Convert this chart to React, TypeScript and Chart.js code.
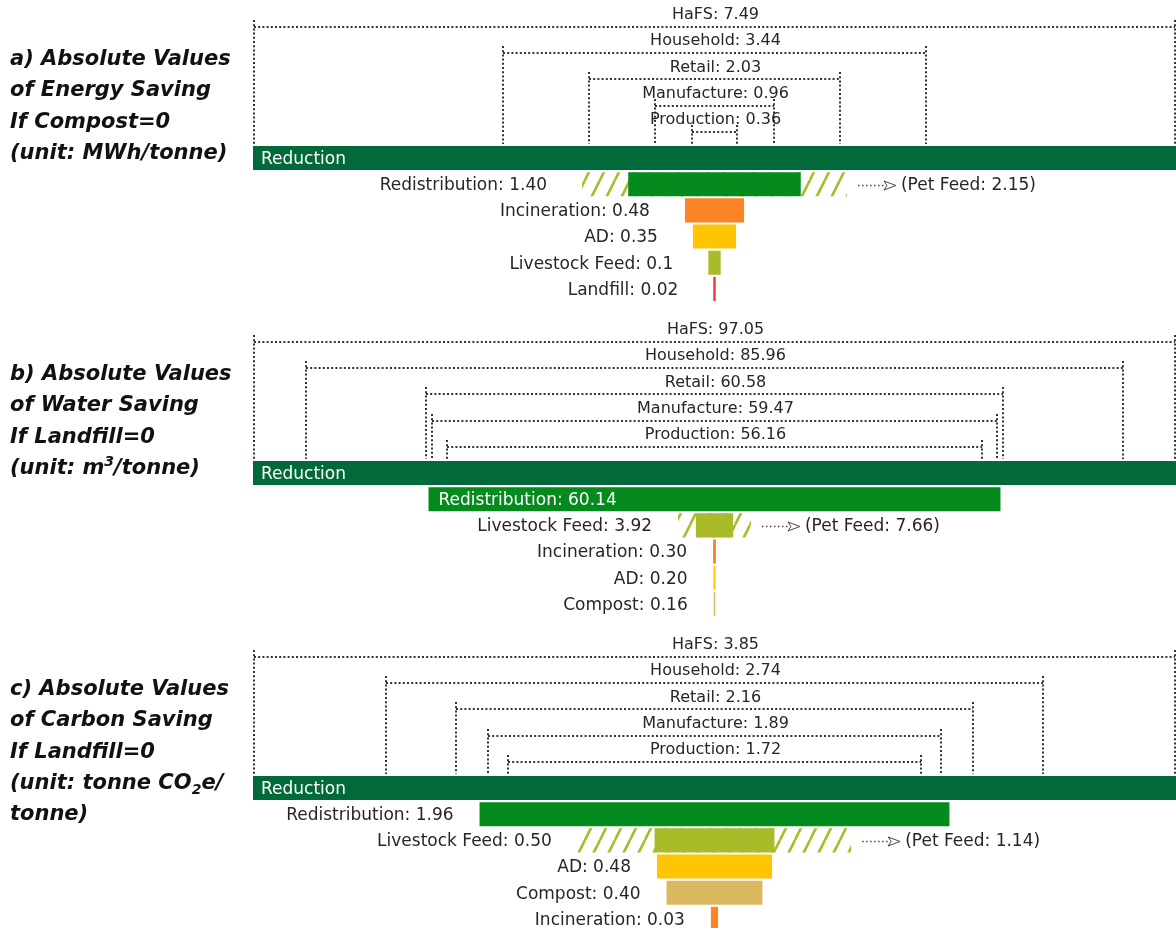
import React, { useEffect, useRef } from 'react';
import { Chart, registerables } from 'chart.js';

Chart.register(...registerables);

// ---------- data ----------
const STAGES = ['HaFS', 'Household', 'Retail', 'Manufacture', 'Production'];

const ENERGY_STAGE_VALUES = ['7.49', '3.44', '2.03', '0.96', '0.36'];
const ENERGY_ROUTES = ['Redistribution', 'Incineration', 'AD', 'Livestock Feed', 'Landfill'];
const ENERGY_ROUTE_VALUES = ['1.40', '0.48', '0.35', '0.1', '0.02'];
const ENERGY_PET_FEED = '2.15';
const ENERGY_PET_ROW = 'Redistribution';

const WATER_STAGE_VALUES = ['97.05', '85.96', '60.58', '59.47', '56.16'];
const WATER_ROUTES = ['Redistribution', 'Livestock Feed', 'Incineration', 'AD', 'Compost'];
const WATER_ROUTE_VALUES = ['60.14', '3.92', '0.30', '0.20', '0.16'];
const WATER_PET_FEED = '7.66';
const WATER_PET_ROW = 'Livestock Feed';

const CARBON_STAGE_VALUES = ['3.85', '2.74', '2.16', '1.89', '1.72'];
const CARBON_ROUTES = ['Redistribution', 'Livestock Feed', 'AD', 'Compost', 'Incineration'];
const CARBON_ROUTE_VALUES = ['1.96', '0.50', '0.48', '0.40', '0.03'];
const CARBON_PET_FEED = '1.14';
const CARBON_PET_ROW = 'Livestock Feed';

// ---------- styles ----------
const ROUTE_COLORS: Record<string, string> = {
  Reduction: '#026a3a',
  Redistribution: '#058b1d',
  Incineration: '#fc8424',
  AD: '#ffc402',
  'Livestock Feed': '#a9bb29',
  Landfill: '#ee3a40',
  Compost: '#dcb95f',
};
const HATCH_COLOR = '#a9bb29';
const TEXT_COLOR = '#262626';
const FONT = '"DejaVu Sans", Verdana, sans-serif';

function makeHatch(): CanvasPattern | string {
  const c = document.createElement('canvas');
  const w = 15, h = 30;
  c.width = w; c.height = h;
  const g = c.getContext('2d');
  if (!g) return HATCH_COLOR;
  g.strokeStyle = HATCH_COLOR;
  g.lineWidth = 2.6;
  for (const off of [-w, 0, w]) {
    g.beginPath();
    g.moveTo(off, h);
    g.lineTo(off + w, 0);
    g.stroke();
  }
  return g.createPattern(c, 'repeat') || HATCH_COLOR;
}

const funnelPlugin = {
  id: 'funnel',
  beforeDatasetsDraw(chart: any, _args: any, o: any) {
    const ctx: CanvasRenderingContext2D = chart.ctx;
    const xs = chart.scales.x, ys = chart.scales.y;
    const area = chart.chartArea;
    const pitch = ys.getPixelForValue(1) - ys.getPixelForValue(0);
    const redY = ys.getPixelForValue(STAGES.length);
    const bottom = redY - pitch * 0.46 - 2;
    const cx = xs.getPixelForValue(0);
    ctx.save();
    ctx.strokeStyle = '#333333';
    ctx.lineWidth = 2;
    ctx.setLineDash([2, 2.2]);
    o.stageValues.forEach((s: string, i: number) => {
      const v = parseFloat(s);
      const yy = Math.round(ys.getPixelForValue(i));
      const xl = Math.max(area.left + 1, Math.round(xs.getPixelForValue(-v / 2)));
      const xr = Math.min(area.right - 1, Math.round(xs.getPixelForValue(v / 2)));
      ctx.beginPath();
      ctx.moveTo(xl, yy);
      ctx.lineTo(xr, yy);
      ctx.moveTo(xl, yy - 7);
      ctx.lineTo(xl, bottom);
      ctx.moveTo(xr, yy - 7);
      ctx.lineTo(xr, bottom);
      ctx.stroke();
    });
    ctx.setLineDash([]);
    ctx.fillStyle = TEXT_COLOR;
    ctx.font = `16px ${FONT}`;
    ctx.textAlign = 'center';
    ctx.textBaseline = 'middle';
    o.stageValues.forEach((s: string, i: number) => {
      const yy = ys.getPixelForValue(i);
      ctx.fillText(`${STAGES[i]}: ${s}`, cx + 1, yy - 12);
    });
    ctx.restore();
  },
  afterDatasetsDraw(chart: any, _args: any, o: any) {
    const ctx: CanvasRenderingContext2D = chart.ctx;
    const xs = chart.scales.x, ys = chart.scales.y;
    const labels: string[] = chart.data.labels;
    const pf = parseFloat(o.petFeed);
    ctx.save();
    ctx.font = `17px ${FONT}`;
    ctx.textBaseline = 'middle';
    labels.forEach((name: string, i: number) => {
      if (i < STAGES.length) return;
      const yy = ys.getPixelForValue(i) + 1.5;
      const ri = i - STAGES.length;
      const text = ri === 0 ? name : `${name}: ${o.routeValues[ri - 1]}`;
      const v = ri === 0 ? parseFloat(o.stageValues[0]) : parseFloat(o.routeValues[ri - 1]);
      let left = xs.getPixelForValue(-v / 2);
      if (ri === 0 || o.inside.includes(name)) {
        ctx.fillStyle = '#ffffff';
        ctx.textAlign = 'left';
        ctx.fillText(text, left + (ri === 0 ? 8 : 10), yy);
        return;
      }
      if (name === o.petRow) left = Math.min(left, xs.getPixelForValue(-pf / 2));
      ctx.fillStyle = TEXT_COLOR;
      ctx.textAlign = 'right';
      ctx.fillText(text, left - o.gap, yy);
    });
    // pet feed arrow
    const pi = labels.indexOf(o.petRow);
    const py = Math.round(ys.getPixelForValue(pi)) + 1.5;
    const hx = xs.getPixelForValue(pf / 2);
    ctx.strokeStyle = '#444444';
    ctx.lineWidth = 1.5;
    ctx.setLineDash([1.5, 2.5]);
    ctx.beginPath();
    ctx.moveTo(hx + 11, py);
    ctx.lineTo(hx + 37, py);
    ctx.stroke();
    ctx.setLineDash([]);
    ctx.lineWidth = 1;
    ctx.fillStyle = '#ffffff';
    const ax = hx + 37;
    ctx.beginPath();
    ctx.moveTo(ax, py - 4.5);
    ctx.lineTo(ax + 12, py);
    ctx.lineTo(ax, py + 4.5);
    ctx.lineTo(ax + 3, py);
    ctx.closePath();
    ctx.fill();
    ctx.stroke();
    ctx.fillStyle = TEXT_COLOR;
    ctx.textAlign = 'left';
    ctx.font = `17px ${FONT}`;
    ctx.fillText(`(Pet Feed: ${o.petFeed})`, hx + 54, py);
    ctx.restore();
  },
};

type PanelProps = {
  top: number;
  stageValues: string[];
  routes: string[];
  routeValues: string[];
  petFeed: string;
  petRow: string;
  inside: string[];
  gap: number;
  titleLines: React.ReactNode[];
};

function Panel(p: PanelProps) {
  const ref = useRef<HTMLCanvasElement | null>(null);
  useEffect(() => {
    if (!ref.current) return;
    const total = parseFloat(p.stageValues[0]);
    const labels = [...STAGES, 'Reduction', ...p.routes];
    const routeVals = [total, ...p.routeValues.map((s) => parseFloat(s))];
    const mainData = labels.map((_, i) => {
      if (i < STAGES.length) return null;
      const v = routeVals[i - STAGES.length];
      return [-v / 2, v / 2];
    });
    const pf = parseFloat(p.petFeed);
    const hatchData = labels.map((n) => (n === p.petRow ? [-pf / 2, pf / 2] : null));
    const colors = labels.map((n) => ROUTE_COLORS[n] || '#999');
    const chart = new Chart(ref.current, {
      type: 'bar',
      data: {
        labels,
        datasets: [
          {
            data: hatchData as any,
            backgroundColor: makeHatch() as any,
            borderWidth: 0,
            grouped: false,
            order: 2,
            barPercentage: 0.92,
            categoryPercentage: 1,
          },
          {
            data: mainData as any,
            backgroundColor: colors,
            borderWidth: 0,
            grouped: false,
            order: 1,
            barPercentage: 0.92,
            categoryPercentage: 1,
          },
        ],
      },
      options: {
        indexAxis: 'y',
        animation: false,
        responsive: false,
        maintainAspectRatio: false,
        events: [],
        layout: { padding: { left: 253, right: 0, top: 14, bottom: 13 } },
        scales: {
          x: { type: 'linear', min: -total / 2, max: total / 2, display: false },
          y: { type: 'category', display: false, offset: true },
        },
        plugins: {
          legend: { display: false },
          tooltip: { enabled: false },
          funnel: {
            stageValues: p.stageValues,
            routeValues: p.routeValues,
            petFeed: p.petFeed,
            petRow: p.petRow,
            inside: p.inside,
            gap: p.gap,
          },
        } as any,
      },
      plugins: [funnelPlugin as any],
    });
    return () => chart.destroy();
  }, []);
  return (
    <div style={{ position: 'absolute', left: 0, top: p.top, width: 1176, height: 315 }}>
      <canvas ref={ref} width={1176} height={315} style={{ display: 'block', width: 1176, height: 315 }} />
      <div
        style={{
          position: 'absolute',
          left: 10,
          top: 43,
          fontFamily: FONT,
          fontWeight: 'bold',
          fontStyle: 'italic',
          fontSize: 21,
          lineHeight: '31.3px',
          color: '#111',
          whiteSpace: 'nowrap',
        }}
      >
        {p.titleLines.map((l, i) => (
          <div key={i}>{l}</div>
        ))}
      </div>
    </div>
  );
}

const supStyle: React.CSSProperties = { fontSize: 14, verticalAlign: 'super', lineHeight: 0 };
const subStyle: React.CSSProperties = { fontSize: 14, verticalAlign: 'sub', lineHeight: 0 };

export default function App() {
  return (
    <div style={{ position: 'fixed', left: 0, top: 0, width: 1176, height: 928, overflow: 'hidden', background: '#fff' }}>
      <Panel
        top={0}
        stageValues={ENERGY_STAGE_VALUES}
        routes={ENERGY_ROUTES}
        routeValues={ENERGY_ROUTE_VALUES}
        petFeed={ENERGY_PET_FEED}
        petRow={ENERGY_PET_ROW}
        inside={[]}
        gap={35}
        titleLines={['a) Absolute Values', 'of Energy Saving', 'If Compost=0', '(unit: MWh/tonne)']}
      />
      <Panel
        top={315}
        stageValues={WATER_STAGE_VALUES}
        routes={WATER_ROUTES}
        routeValues={WATER_ROUTE_VALUES}
        petFeed={WATER_PET_FEED}
        petRow={WATER_PET_ROW}
        inside={['Redistribution']}
        gap={26}
        titleLines={[
          'b) Absolute Values',
          'of Water Saving',
          'If Landfill=0',
          <>(unit: m<span style={supStyle}>3</span>/tonne)</>,
        ]}
      />
      <Panel
        top={630}
        stageValues={CARBON_STAGE_VALUES}
        routes={CARBON_ROUTES}
        routeValues={CARBON_ROUTE_VALUES}
        petFeed={CARBON_PET_FEED}
        petRow={CARBON_PET_ROW}
        inside={[]}
        gap={26}
        titleLines={[
          'c) Absolute Values',
          'of Carbon Saving',
          'If Landfill=0',
          <>(unit: tonne CO<span style={subStyle}>2</span>e/</>,
          'tonne)',
        ]}
      />
    </div>
  );
}
